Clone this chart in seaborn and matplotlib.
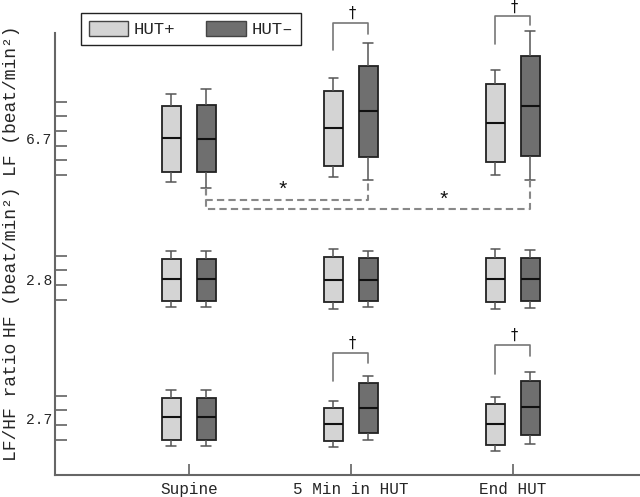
import pandas as pd
import matplotlib
matplotlib.use("Agg")
import matplotlib.pyplot as plt
from matplotlib.patches import Patch
import seaborn as sns

# Categorias y grupos
fases = ["Supine", "5 Min in HUT", "End HUT"]
grupos = ["HUT+", "HUT–"]

# Cada caja: [bigote inf, Q1, mediana, Q3, bigote sup] (unidades del eje)
lf_hut_pos = [[293, 303.7, 337.7, 369.3, 381.3], [298.3, 309.3, 347.3, 384, 397], [300.7, 313, 352.7, 391.7, 405]]
lf_hut_neg = [[287, 303.7, 336.7, 370.3, 386], [295, 318.3, 364, 409.7, 432.3], [295, 319.7, 369.7, 419, 444]]
hf_hut_pos = [[168.3, 174.3, 196.7, 216.3, 224], [166, 173.3, 195.7, 218.3, 226.3], [166, 173.3, 196, 217.7, 226.3]]
hf_hut_neg = [[168.3, 174.3, 196.7, 216.3, 224], [168, 174.7, 195, 217, 224.7], [167.7, 174, 196.3, 217.7, 225]]
ratio_hut_pos = [[29.7, 35.7, 58.3, 77.7, 85], [28.3, 34.3, 51.7, 67.7, 74.3], [24.3, 30.3, 51.7, 71, 78.3]]
ratio_hut_neg = [[29.7, 35.7, 58.3, 77.7, 85], [35, 42.3, 67.7, 92.3, 99.7], [31.7, 40.7, 68, 94, 103.3]]

# Marcas del eje y
ytick_minor = [373.3, 359, 344, 329.3, 315, 300.3, 219.3, 205, 190.7, 175.3, 79.3, 65, 50.7, 35.7]
ytick_pos = [337, 196, 57]
ytick_labels = ["6.7", "2.8", "2.7"]

paneles = [
    ("LF", lf_hut_pos, lf_hut_neg),
    ("HF", hf_hut_pos, hf_hut_neg),
    ("ratio", ratio_hut_pos, ratio_hut_neg),
]

colores = {"HUT+": "#d4d4d4", "HUT–": "#6f6f6f"}

sns.set_style("ticks")
plt.rcParams["font.family"] = ["Liberation Mono", "DejaVu Sans Mono"]

fig = plt.figure(figsize=(6.4, 4.97), dpi=100)
ax = fig.add_axes([55 / 640, 21.7 / 497, 585 / 640, 442.3 / 497])

ancho = 0.432
offset = ancho / 4

for nombre, pos, neg in paneles:
    filas = []
    for i, fase in enumerate(fases):
        for v in pos[i]:
            filas.append((fase, "HUT+", v))
        for v in neg[i]:
            filas.append((fase, "HUT–", v))
    df = pd.DataFrame(filas, columns=["fase", "grupo", "valor"])
    sns.boxplot(
        data=df, x="fase", y="valor", hue="grupo", order=fases, hue_order=grupos,
        palette=colores, width=ancho, gap=0.43, linecolor="#222222", linewidth=1.3,
        whiskerprops=dict(color="#555555", linewidth=1.1),
        capprops=dict(color="#555555", linewidth=1.1),
        medianprops=dict(color="#111111", linewidth=1.5),
        showfliers=False, legend=False, ax=ax,
    )

for art in list(ax.lines) + list(ax.patches):
    art.set_clip_on(False)

ax.set_xlim(-0.827, 2.784)
ax.set_ylim(0, 442.3)
ax.set_xlabel("")
ax.set_ylabel("")

# Ejes
sns.despine(ax=ax, top=True, right=True)
for lado in ["left", "bottom"]:
    ax.spines[lado].set_color("#666666")
    ax.spines[lado].set_linewidth(1.5)

ax.set_yticks(ytick_pos)
ax.set_yticklabels(ytick_labels, fontsize=10.5)
ax.set_yticks(ytick_minor, minor=True)
ax.tick_params(axis="y", which="major", length=0, pad=2)
ax.tick_params(axis="y", which="minor", direction="in", length=8.6, width=1.1, color="#555555")
ax.tick_params(axis="x", direction="in", length=8, width=1.1, color="#555555", labelsize=11.5, pad=5)

# Corchetes de significacion (dagas)
gris = "#777777"
brackets = [
    (1, 425, 452.3, 441.7, 462.3),
    (2, 431.7, 459.7, 450, 468),
    (1, 94, 122, 112.3, 132.3),
    (2, 101.7, 130, 119, 140),
]
for xc, y_izq, y_top, y_der, y_txt in brackets:
    ax.plot([xc - offset, xc - offset, xc + offset, xc + offset], [y_izq, y_top, y_top, y_der],
            color=gris, lw=1.2, clip_on=False)
    ax.text(xc + 0.01, y_txt, "†", ha="center", va="center", fontsize=10.5, color="#111111",
            family=["DejaVu Sans"], clip_on=False)

# Lineas discontinuas entre Supine y las fases HUT (grupo HUT-)
y_inicio = lf_hut_neg[0][0]
for fase_idx, y_nivel in [(1, 275), (2, 266.5)]:
    ax.plot([0 + offset, 0 + offset, fase_idx + offset, fase_idx + offset],
            [y_inicio, y_nivel, y_nivel, lf_hut_neg[fase_idx][0]],
            color="#888888", lw=1.5, linestyle=(0, (3.5, 2)))
ax.text(0.58, 285, "*", ha="center", va="center", fontsize=15, color="#111111")
ax.text(1.574, 275, "*", ha="center", va="center", fontsize=15, color="#111111")

# Etiquetas del eje y superpuestas
fig.text(12 / 640, 1 - 401.5 / 497, "LF/HF ratio", rotation=90, ha="center", va="center", fontsize=13)
fig.text(12 / 640, 1 - 262 / 497, "HF (beat/min²)", rotation=90, ha="center", va="center", fontsize=13)
fig.text(12 / 640, 1 - 101 / 497, "LF (beat/min²)", rotation=90, ha="center", va="center", fontsize=13)

# Leyenda
handles = [Patch(facecolor=colores[g], edgecolor="#444444", linewidth=1) for g in grupos]
leg = fig.legend(handles, grupos, loc="upper left", bbox_to_anchor=(80.7 / 640, 1 - 13.3 / 497),
                 ncol=2, frameon=True, fancybox=False, framealpha=1, edgecolor="#222222",
                 borderaxespad=0, fontsize=12.5, handlelength=2.3, handleheight=0.92,
                 handletextpad=0.3, columnspacing=1.8, borderpad=0.45)
leg.get_frame().set_linewidth(1.0)

plt.savefig("out.png", dpi=100)
plt.close()
